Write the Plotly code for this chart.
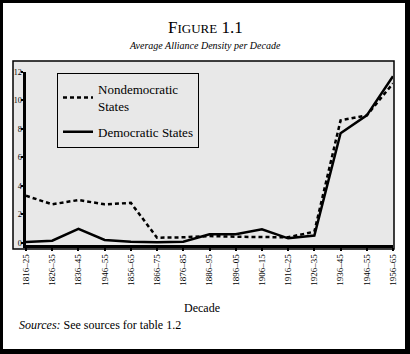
import plotly.graph_objects as go

decades = ["1816–25", "1826–35", "1836–45", "1946–55", "1856–65", "1866–75", "1876–85",
           "1886–95", "1896–05", "1906–15", "1916–25", "1926–35", "1936–45", "1946–55", "1956–65"]
nondemocratic = [3.3, 2.7, 3.0, 2.7, 2.8, 0.35, 0.38, 0.47, 0.42, 0.38, 0.38, 0.78, 8.6, 8.95, 11.2]
democratic = [0.05, 0.14, 0.97, 0.19, 0.07, 0.03, 0.07, 0.59, 0.59, 0.95, 0.31, 0.5, 7.7, 8.95, 11.7]
y_ticks = [0, 2, 4, 6, 8, 10, 12]

W_FIG, H_FIG = 410, 354
L, R, T, B = 26, 393, 72, 245
W, H = R - L, B - T

def px(x):
    return (x - L) / W

def py(y):
    return (B - y) / H

xs = list(range(len(decades)))
serif = "Liberation Serif, Times New Roman, serif"

fig = go.Figure()
fig.add_trace(go.Scatter(x=xs, y=nondemocratic, mode="lines", name="Nondemocratic<br>States",
                         legendgroup="a",
                         line=dict(color="black", width=2.5, dash="4px,3px"), cliponaxis=False))
fig.add_trace(go.Scatter(x=xs, y=democratic, mode="lines", name="Democratic States",
                         legendgroup="b",
                         line=dict(color="black", width=2.5), cliponaxis=False))

shapes = [
    dict(type="rect", xref="paper", yref="paper", x0=px(3), x1=px(405), y0=py(349), y1=py(3),
         fillcolor="white", line=dict(width=0), layer="below"),
    dict(type="rect", xref="paper", yref="paper", x0=px(13), x1=px(394), y0=py(249), y1=py(61),
         fillcolor="#e8e8e8", line=dict(color="black", width=1.5), layer="below"),
]

annotations = [
    dict(text="F<span style='font-size:13px'>IGURE</span> 1.1", x=px(205), y=py(27), xref="paper", yref="paper",
         showarrow=False, font=dict(family=serif, size=17, color="black"), xanchor="center", yanchor="middle"),
    dict(text="<i>Average Alliance Density per Decade</i>", x=px(205), y=py(46), xref="paper", yref="paper",
         showarrow=False, font=dict(family=serif, size=10, color="black"), xanchor="center", yanchor="middle"),
    dict(text="Decade", x=px(202), y=py(308), xref="paper", yref="paper",
         showarrow=False, font=dict(family=serif, size=12, color="black"), xanchor="center", yanchor="middle"),
    dict(text="<i>Sources:</i> See sources for table 1.2", x=px(17), y=py(325), xref="paper", yref="paper",
         showarrow=False, font=dict(family=serif, size=12, color="black"), xanchor="left", yanchor="middle"),
]

fig.update_layout(
    width=W_FIG, height=H_FIG,
    margin=dict(l=L, r=W_FIG - R, t=T, b=H_FIG - B, pad=0),
    paper_bgcolor="black",
    plot_bgcolor="rgba(0,0,0,0)",
    shapes=shapes,
    annotations=annotations,
    showlegend=True,
    legend=dict(x=px(57), y=py(73), xanchor="left", yanchor="top",
                bgcolor="#e8e8e8", bordercolor="black", borderwidth=1,
                font=dict(family=serif, size=13, color="black"),
                tracegroupgap=6, itemwidth=30),
    xaxis=dict(range=[0, 14], tickmode="array", tickvals=xs, ticktext=decades,
               tickangle=-90, ticks="outside", ticklen=3, tickwidth=2, tickcolor="black",
               showline=True, linecolor="black", linewidth=2.5, showgrid=False, zeroline=False,
               tickfont=dict(family=serif, size=9, color="black")),
    yaxis=dict(range=[-0.16, 12], tickmode="array", tickvals=y_ticks,
               ticks="outside", ticklen=2, tickwidth=1.5, tickcolor="black",
               ticklabelstandoff=-2,
               showline=True, linecolor="black", linewidth=2.5, showgrid=False, zeroline=False,
               tickfont=dict(family=serif, size=8, color="black")),
)

fig.write_html("out.html")
